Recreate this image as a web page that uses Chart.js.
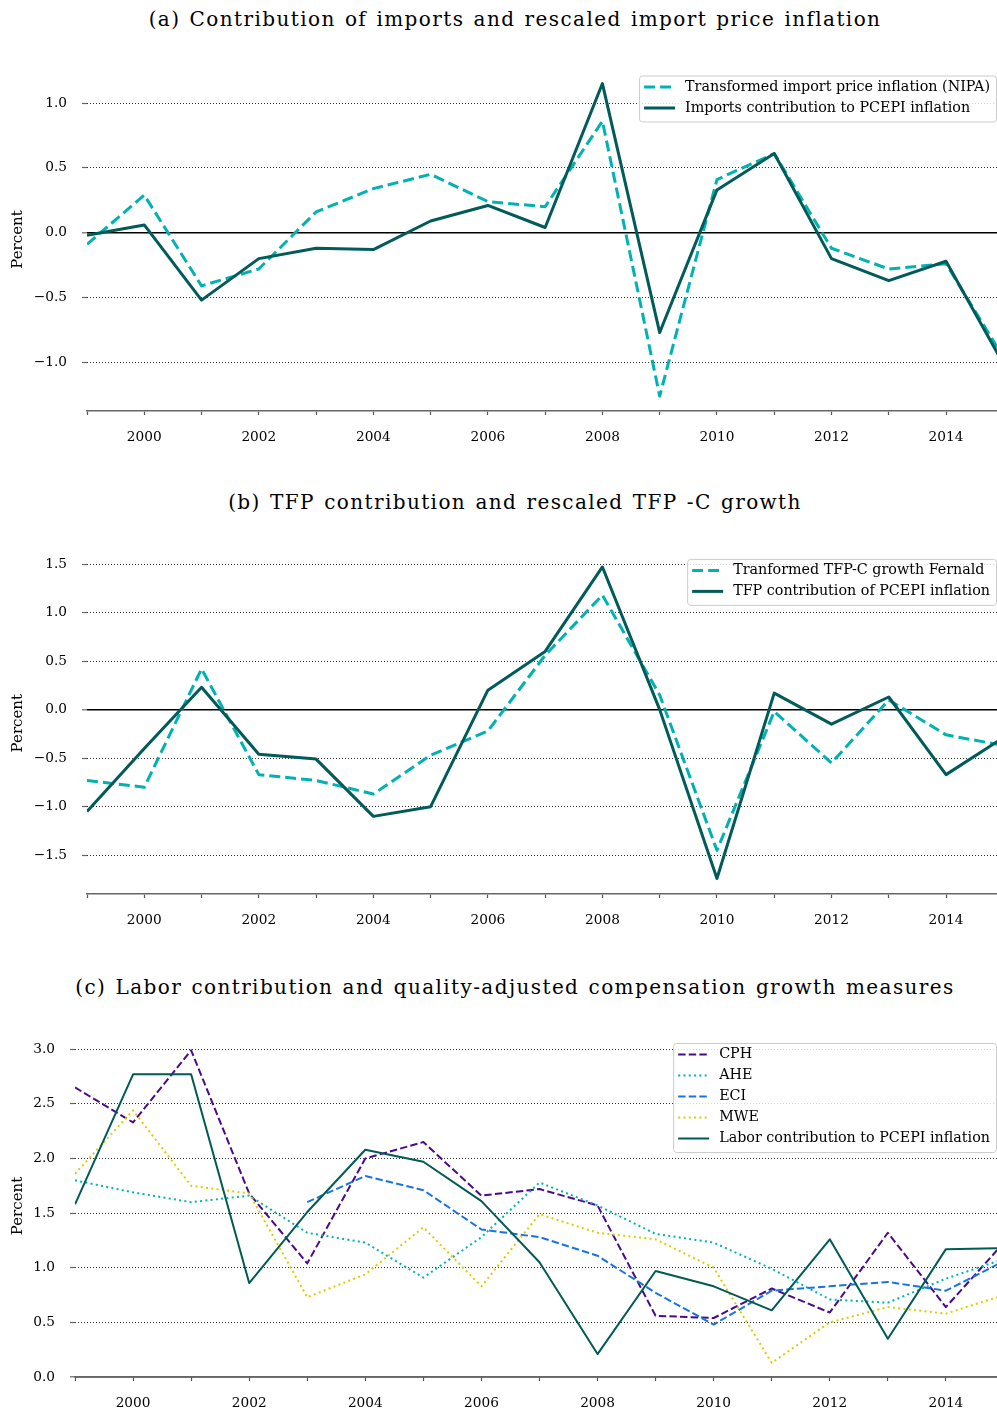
<!DOCTYPE html>
<html>
<head>
<meta charset="utf-8">
<script src="https://cdn.jsdelivr.net/npm/chart.js@4"></script>
<style>
  body { margin: 0; background: #fff; width: 997px; height: 1411px; position: relative; overflow: hidden; }
  .title { position: absolute; left: 0; width: 1030px; text-align: center; font-family: "DejaVu Serif"; font-size: 20px; letter-spacing: 1.4px; word-spacing: 1.5px; line-height: 24px; color: #000; }
  canvas { position: absolute; left: 0; }
</style>
</head>
<body>
<div class="title" style="top:7px">(a) Contribution of imports and rescaled import price inflation</div>
<div class="title" style="top:490px">(b) TFP contribution and rescaled TFP -C growth</div>
<div class="title" style="top:975px">(c) Labor contribution and quality-adjusted compensation growth measures</div>
<canvas id="chartA" width="997" height="407" style="top:44px"></canvas>
<canvas id="chartB" width="997" height="406" style="top:528px"></canvas>
<canvas id="chartC" width="997" height="400" style="top:1011px"></canvas>
<script>
const years = [1999, 2000, 2001, 2002, 2003, 2004, 2005, 2006, 2007, 2008, 2009, 2010, 2011, 2012, 2013, 2014, 2015];

// (a) imports
const importPriceNipa = [-0.09, 0.29, -0.41, -0.28, 0.16, 0.34, 0.45, 0.24, 0.20, 0.86, -1.26, 0.41, 0.61, -0.12, -0.28, -0.24, -0.96];
const importsContrib  = [-0.02, 0.06, -0.52, -0.20, -0.12, -0.13, 0.09, 0.21, 0.04, 1.15, -0.77, 0.33, 0.61, -0.20, -0.37, -0.22, -1.01];

// (b) TFP
const tfpFernald = [-0.73, -0.80, 0.42, -0.67, -0.73, -0.87, -0.47, -0.22, 0.56, 1.18, 0.15, -1.45, -0.02, -0.55, 0.10, -0.26, -0.37];
const tfpContrib = [-1.05, -0.40, 0.23, -0.46, -0.51, -1.10, -1.00, 0.20, 0.60, 1.47, 0.00, -1.74, 0.17, -0.15, 0.13, -0.67, -0.29];

// (c) labor
const cph   = [2.65, 2.33, 2.99, 1.68, 1.04, 2.00, 2.15, 1.66, 1.72, 1.57, 0.56, 0.54, 0.81, 0.59, 1.32, 0.64, 1.23];
const ahe   = [1.80, 1.69, 1.60, 1.66, 1.32, 1.23, 0.91, 1.28, 1.78, 1.57, 1.31, 1.23, 0.99, 0.71, 0.68, 0.90, 1.08];
const eci   = [null, null, null, null, 1.60, 1.84, 1.71, 1.35, 1.28, 1.11, 0.77, 0.48, 0.79, 0.83, 0.87, 0.79, 1.06];
const mwe   = [1.86, 2.44, 1.75, 1.68, 0.73, 0.94, 1.37, 0.83, 1.49, 1.32, 1.26, 1.00, 0.13, 0.50, 0.64, 0.58, 0.75];
const labor = [1.58, 2.77, 2.77, 0.86, 1.51, 2.08, 1.97, 1.61, 1.05, 0.21, 0.97, 0.83, 0.61, 1.26, 0.35, 1.17, 1.18];

const TEAL = '#00b2b2';
const DARK = '#005b59';
const FONT = 'DejaVu Serif';

Chart.defaults.font.family = FONT;
Chart.defaults.color = '#000';

function line(label, vals, color, width, dash, order) {
    return {
        label: label,
        data: years.map((x, i) => ({ x: x, y: vals[i] })),
        borderColor: color,
        backgroundColor: color,
        borderWidth: width,
        borderDash: dash,
        borderJoinStyle: 'round',
        pointRadius: 0,
        fill: false,
        tension: 0,
        spanGaps: false,
        order: order
    };
}

function xAxis(max, height) {
    return {
        type: 'linear', min: 1999, max: max,
        afterFit(s) { s.height = height; },
        ticks: {
            stepSize: 1, autoSkip: false, maxRotation: 0, includeBounds: false, padding: 14,
            color: '#000', font: { family: FONT, size: 13.7 },
            callback: v => (v % 2 === 0 ? String(v) : '')
        },
        grid: { drawOnChartArea: false, drawTicks: true, tickLength: 4, tickColor: '#555', tickWidth: 1.2 },
        border: { display: true, color: '#666', width: 1.6 }
    };
}

function yAxis(min, max, width) {
    const isZero = c => c.tick && Math.abs(c.tick.value) < 1e-9;
    return {
        min: min, max: max,
        afterFit(s) { s.width = width; },
        ticks: {
            stepSize: 0.5, includeBounds: false, padding: 15,
            color: '#000', font: { family: FONT, size: 13.7 },
            callback: v => (v < 0 ? '\u2212' : '') + Math.abs(v).toFixed(1)
        },
        grid: {
            color: c => isZero(c) ? '#000' : '#333',
            lineWidth: c => isZero(c) ? 1.6 : 1,
            drawTicks: true, tickLength: 5, tickColor: '#666', tickWidth: 1.2
        },
        border: { display: false, dash: c => isZero(c) ? [] : [1, 2] },
        title: { display: true, text: 'Percent', color: '#000', font: { family: FONT, size: 15 }, padding: { top: 9, bottom: 0 } }
    };
}

// legend drawn inside the plot, top right, over the lines
const boxLegend = {
    id: 'boxLegend',
    afterDatasetsDraw(chart, args, opts) {
        const ctx = chart.ctx;
        const ds = chart.data.datasets;
        ctx.save();
        ctx.font = '14.3px "' + FONT + '"';
        const textW = Math.max(...ds.map(d => ctx.measureText(d.label).width));
        const sample = 31, rowH = 21;
        const w = 5 + sample + 10 + textW + 6;
        const h = ds.length * rowH + 4;
        const right = 996;
        const left = right - w;
        const top = chart.chartArea.top + opts.top;
        ctx.beginPath();
        if (ctx.roundRect) ctx.roundRect(left + 0.5, top + 0.5, w, h, 3);
        else ctx.rect(left + 0.5, top + 0.5, w, h);
        ctx.fillStyle = 'rgba(255,255,255,0.8)';
        ctx.fill();
        ctx.strokeStyle = '#cccccc';
        ctx.lineWidth = 1;
        ctx.stroke();
        ds.forEach((d, i) => {
            const y = top + 11.5 + i * rowH;
            ctx.beginPath();
            ctx.setLineDash(d.borderDash || []);
            ctx.strokeStyle = d.borderColor;
            ctx.lineWidth = d.borderWidth;
            ctx.moveTo(left + 5, y);
            ctx.lineTo(left + 5 + sample, y);
            ctx.stroke();
            ctx.setLineDash([]);
            ctx.fillStyle = '#000';
            ctx.textBaseline = 'middle';
            ctx.textAlign = 'left';
            ctx.fillText(d.label, left + 5 + sample + 10, y);
        });
        ctx.restore();
    }
};

function makeChart(id, datasets, xMax, xH, yMin, yMax, yW, padTop, legTop) {
    return new Chart(document.getElementById(id).getContext('2d'), {
        type: 'line',
        data: { datasets: datasets },
        options: {
            responsive: false,
            animation: false,
            devicePixelRatio: 1,
            layout: { padding: { top: padTop, right: 0, left: 0, bottom: 0 } },
            scales: { x: xAxis(xMax, xH), y: yAxis(yMin, yMax, yW) },
            plugins: {
                legend: { display: false },
                tooltip: { enabled: false },
                boxLegend: { top: legTop }
            }
        },
        plugins: [boxLegend]
    });
}

makeChart('chartA', [
    line('Transformed import price inflation (NIPA)', importPriceNipa, TEAL, 3, [11, 5], 1),
    line('Imports contribution to PCEPI inflation', importsContrib, DARK, 3, [], 0)
], 2014.89, 40, -1.375, 1.27, 87, 24, 7.5);

makeChart('chartB', [
    line('Tranformed TFP-C growth Fernald', tfpFernald, TEAL, 3, [11, 5], 1),
    line('TFP contribution of PCEPI inflation', tfpContrib, DARK, 3, [], 0)
], 2014.89, 40, -1.9, 1.62, 87, 24.4, 6.5);

makeChart('chartC', [
    line('CPH', cph, '#4b0a8c', 2, [7.4, 3.2], 4),
    line('AHE', ahe, '#00b3b3', 2, [2, 3.3], 3),
    line('ECI', eci, '#1874e0', 2, [7.4, 3.2], 2),
    line('MWE', mwe, '#dccd00', 2, [2, 3.3], 1),
    line('Labor contribution to PCEPI inflation', labor, '#005b55', 2, [], 0)
], 2014.88, 34, 0, 3.13, 75, 24, 8);
</script>
</body>
</html>
